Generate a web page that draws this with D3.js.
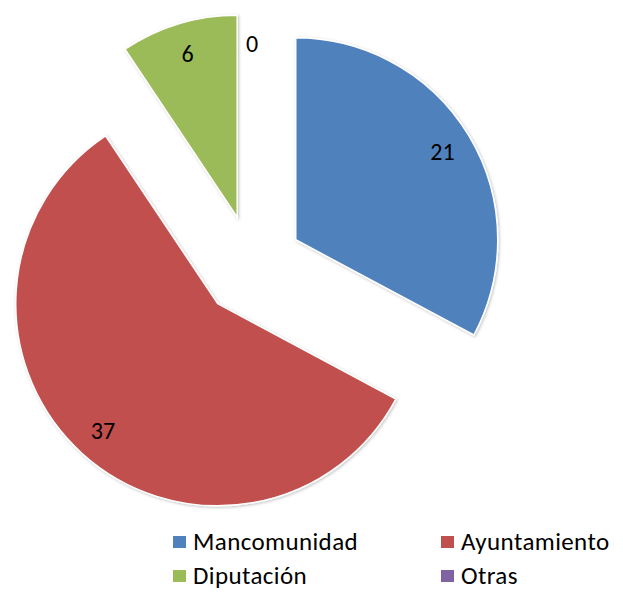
<!DOCTYPE html>
<html>
<head>
<meta charset="utf-8">
<script src="https://cdn.jsdelivr.net/npm/d3@7"></script>
<style>
  body { margin: 0; background: #fff; }
  svg { display: block; }
</style>
</head>
<body>
<svg width="623" height="592"></svg>
<script>
// chart data
const categories = ['Mancomunidad', 'Ayuntamiento', 'Diputación', 'Otras'];
const values = [21, 37, 6, 0];
const colors = ['#4F81BD', '#C0504D', '#9BBB59', '#8064A2'];

const svg = d3.select('svg');
const font = 'Carlito, Lato, "Open Sans", sans-serif';

const cx = 252, cy = 266;
const radius = 202;
const explode = 51;
const labelRadius = 171;

// soft shadow around the slices
const defs = svg.append('defs');
const filter = defs.append('filter').attr('id', 'shadow')
    .attr('x', '-20%').attr('y', '-20%').attr('width', '140%').attr('height', '140%');
filter.append('feDropShadow')
    .attr('dx', 1).attr('dy', 1).attr('stdDeviation', 1.5)
    .attr('flood-color', '#000').attr('flood-opacity', 0.25);

const pie = d3.pie().sort(null).value(d => d)(values);
const arc = d3.arc().innerRadius(0).outerRadius(radius);
const labelArc = d3.arc().innerRadius(labelRadius).outerRadius(labelRadius);

const g = svg.append('g').attr('transform', `translate(${cx},${cy})`);

const slice = g.selectAll('.slice')
    .data(pie)
    .enter()
    .append('g')
    .attr('class', 'slice')
    .attr('transform', d => {
        const mid = (d.startAngle + d.endAngle) / 2;
        return `translate(${explode * Math.sin(mid)},${-explode * Math.cos(mid)})`;
    });

slice.append('path')
    .attr('d', d => d.endAngle > d.startAngle
        ? arc(d)
        : `M0,0L0,${-radius}`)
    .attr('fill', (d, i) => colors[i])
    .attr('stroke', (d) => d.endAngle > d.startAngle ? '#fff' : '#e4e4e4')
    .attr('stroke-width', d => d.endAngle > d.startAngle ? 1.5 : 4)
    .attr('filter', 'url(#shadow)');

slice.append('text')
    .attr('transform', d => {
        const [x, y] = labelArc.centroid(d);
        return `translate(${x},${y})`;
    })
    .attr('text-anchor', 'middle')
    .attr('dy', '0.35em')
    .style('font-family', font)
    .style('font-size', '24px')
    .attr('fill', '#000')
    .text(d => d.data);

// legend, two columns
const legendX = d3.scalePoint().domain([0, 1]).range([173, 441]);
const legendY = d3.scalePoint().domain([0, 1]).range([550, 584]);

const legend = svg.selectAll('.legend')
    .data(categories)
    .enter()
    .append('g')
    .attr('class', 'legend')
    .attr('transform', (d, i) => `translate(${legendX(i % 2)},${legendY(Math.floor(i / 2))})`);

legend.append('rect')
    .attr('x', 0)
    .attr('y', -14)
    .attr('width', 13)
    .attr('height', 12)
    .attr('fill', (d, i) => colors[i]);

legend.append('text')
    .attr('x', 20)
    .attr('y', 0)
    .style('font-family', font)
    .style('font-size', '25px')
    .style('letter-spacing', '0.4px')
    .attr('fill', '#000')
    .text(d => d);
</script>
</body>
</html>
